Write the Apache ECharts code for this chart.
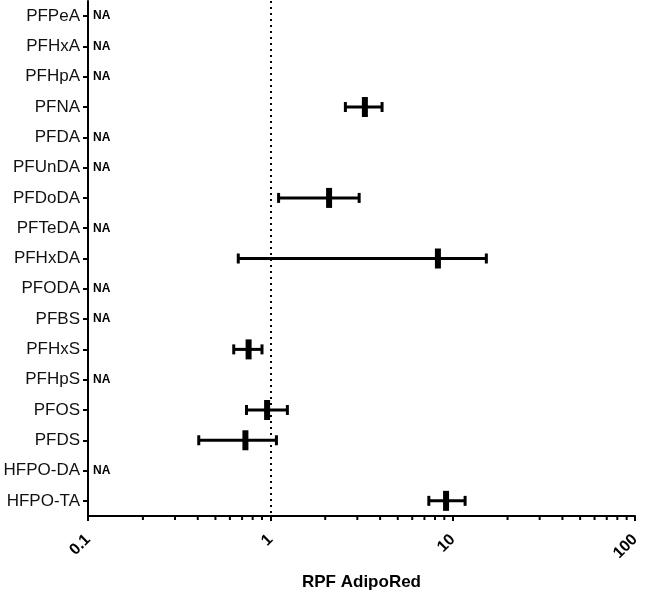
<!DOCTYPE html>
<html>
<head>
<meta charset="utf-8">
<script src="https://cdn.jsdelivr.net/npm/echarts@6/dist/echarts.min.js"></script>
<style>
  html, body { margin: 0; padding: 0; background: #fff; }
  #chart { width: 646px; height: 594px; }
</style>
</head>
<body>
<div id="chart"></div>
<script>
// compounds, top to bottom
const compounds = ['PFPeA', 'PFHxA', 'PFHpA', 'PFNA', 'PFDA', 'PFUnDA', 'PFDoDA', 'PFTeDA',
  'PFHxDA', 'PFODA', 'PFBS', 'PFHxS', 'PFHpS', 'PFOS', 'PFDS', 'HFPO-DA', 'HFPO-TA'];
// RPF estimates with lower / upper bounds (null = NA)
const rpf   = [null, null, null, 3.3, null, null, 2.1, null, 8.3, null, null, 0.76, null, 0.96, 0.73, null, 9.2];
const lower = [null, null, null, 2.58, null, null, 1.11, null, 0.667, null, null, 0.63, null, 0.74, 0.405, null, 7.4];
const upper = [null, null, null, 4.1, null, null, 3.07, null, 15.3, null, null, 0.9, null, 1.24, 1.08, null, 11.7];
// minor ticks on the log axis
const minorTicks = [0.2, 0.3, 0.4, 0.5, 0.6, 0.7, 0.8, 0.9, 2, 3, 4, 5, 6, 7, 8, 9, 20, 30, 40, 50, 60, 70, 80, 90];
const refLine = 1;

let estData = [];
let naData = [];
compounds.forEach((c, i) => {
  if (rpf[i] == null) naData.push([i, 0.1]);
  else estData.push([i, rpf[i], lower[i], upper[i]]);
});
let lastIdx = compounds.length - 1;

let chart = echarts.init(document.getElementById('chart'));
chart.setOption({
  animation: false,
  grid: { left: 88, right: 11, top: 1, bottom: 78, outerBoundsMode: 'none' },
  xAxis: {
    type: 'log',
    logBase: 10,
    min: 0.1,
    max: 100,
    name: 'RPF AdipoRed',
    nameLocation: 'middle',
    nameGap: 58,
    nameTextStyle: { fontFamily: 'Liberation Sans', fontWeight: 'bold', fontSize: 17, color: '#000' },
    axisLine: { show: true, lineStyle: { color: '#000', width: 2 } },
    axisTick: { show: true, length: 5, lineStyle: { color: '#000', width: 2 } },
    axisLabel: {
      rotate: 45,
      margin: 21,
      fontFamily: 'Liberation Sans',
      fontWeight: 'bold',
      fontSize: 16,
      color: '#000',
      formatter: v => String(v)
    },
    splitLine: { show: false }
  },
  yAxis: {
    type: 'category',
    data: compounds,
    inverse: true,
    axisLine: { show: true, lineStyle: { color: '#000', width: 2 } },
    axisTick: { show: true, alignWithLabel: true, length: 5, lineStyle: { color: '#000', width: 2 } },
    axisLabel: { fontFamily: 'Liberation Sans', fontSize: 17, color: '#111', margin: 8 },
    splitLine: { show: false }
  },
  series: [
    {
      // minor ticks below the x axis
      type: 'custom',
      clip: false,
      silent: true,
      dimensions: ['cat', 'v'],
      data: minorTicks.map(v => [lastIdx, v]),
      encode: { y: 0, x: 1 },
      renderItem: (params, api) => {
        let p = api.coord([api.value(1), api.value(0)]);
        let y0 = params.coordSys.y + params.coordSys.height;
        return {
          type: 'line',
          shape: { x1: p[0], y1: y0, x2: p[0], y2: y0 + 4 },
          style: { stroke: '#000', lineWidth: 2 }
        };
      }
    },
    {
      // estimates with error bars
      type: 'custom',
      silent: true,
      dimensions: ['cat', 'rpf', 'lo', 'hi'],
      data: estData,
      encode: { y: 0, x: 1 },
      renderItem: (params, api) => {
        let cat = api.value(0);
        let c = api.coord([api.value(1), cat]);
        let l = api.coord([api.value(2), cat]);
        let h = api.coord([api.value(3), cat]);
        let st = { stroke: '#000', lineWidth: 3 };
        return {
          type: 'group',
          children: [
            { type: 'line', shape: { x1: l[0], y1: l[1], x2: h[0], y2: h[1] }, style: st },
            { type: 'line', shape: { x1: l[0], y1: l[1] - 5, x2: l[0], y2: l[1] + 5 }, style: st },
            { type: 'line', shape: { x1: h[0], y1: h[1] - 5, x2: h[0], y2: h[1] + 5 }, style: st },
            { type: 'rect', shape: { x: c[0] - 3, y: c[1] - 10, width: 6, height: 20 }, style: { fill: '#000' } }
          ]
        };
      }
    },
    {
      // NA labels
      type: 'custom',
      silent: true,
      dimensions: ['cat', 'v'],
      data: naData,
      encode: { y: 0, x: 1 },
      renderItem: (params, api) => {
        let p = api.coord([api.value(1), api.value(0)]);
        return {
          type: 'text',
          style: {
            x: p[0] + 5,
            y: p[1],
            text: 'NA',
            fill: '#000',
            font: 'bold 12px "Liberation Sans"',
            verticalAlign: 'middle'
          }
        };
      }
    },
    {
      // dotted reference line at RPF = 1
      type: 'line',
      data: [],
      markLine: {
        silent: true,
        symbol: 'none',
        label: { show: false },
        lineStyle: { color: '#000', type: [2, 4], width: 2 },
        data: [{ xAxis: refLine }]
      }
    }
  ]
});
window.addEventListener('resize', () => { chart.resize(); });
</script>
</body>
</html>
